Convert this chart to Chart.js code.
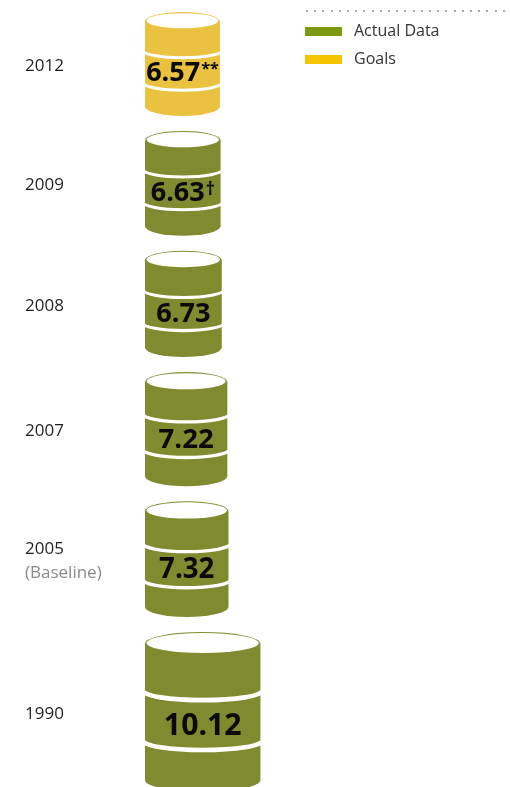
<!DOCTYPE html>
<html>
<head>
<meta charset="utf-8">
<script src="https://cdn.jsdelivr.net/npm/chart.js@4.4.1/dist/chart.umd.min.js"></script>
<style>
  html, body { margin: 0; padding: 0; background: #fff; }
  #wrap { width: 510px; height: 787px; position: relative; }
</style>
</head>
<body>
<div id="wrap"><canvas id="barrelChart"></canvas></div>
<script>
// data
const years = ['2012', '2009', '2008', '2007', '2005', '1990'];
const yearNotes = ['', '', '', '', '(Baseline)', ''];
const values = [6.57, 6.63, 6.73, 7.22, 7.32, 10.12];
const valueMarks = ['**', '†', '', '', '', ''];
const isGoal = [true, false, false, false, false, false];
const legendLabels = ['Actual Data', 'Goals'];

// barrel colours
const GREEN = '#808b2f';
const YELLOW = '#ebc23f';
const LEGEND_GREEN = '#7d9912';
const LEGEND_YELLOW = '#f5c400';

// barrels are stacked top-down, each as tall as its value (in y units)
const TOP_PAD = 1.06, GAP = 1.32, HK = 1.392;
const heights = values.map(v => v * HK);
const centers = [];
let acc = TOP_PAD;
heights.forEach(h => { centers.push(acc + h / 2); acc += h + GAP; });

const pts = idxs => idxs.map(i => ({ x: values[i], y: centers[i], idx: i }));
const goalIdx = values.map((_, i) => i).filter(i => isGoal[i]);
const actualIdx = values.map((_, i) => i).filter(i => !isGoal[i]);

function drawBarrel(ctx, x0, x1, yt, yb, color) {
  const w = x1 - x0, cx = (x0 + x1) / 2, rx = w / 2;
  const ry = 5 + w * 0.06;
  const h = yb - yt;
  ctx.save();
  ctx.fillStyle = color;
  ctx.beginPath();
  ctx.moveTo(x0, yt + ry);
  ctx.lineTo(x0, yb - ry);
  ctx.ellipse(cx, yb - ry, rx, ry, 0, Math.PI, 0, true);
  ctx.lineTo(x1, yt + ry);
  ctx.ellipse(cx, yt + ry, rx, ry, 0, 0, Math.PI, true);
  ctx.closePath();
  ctx.fill();
  // open top
  ctx.fillStyle = '#fff';
  ctx.beginPath();
  ctx.ellipse(cx, yt + ry - 0.8, rx - 1.6, ry - 1.9, 0, 0, Math.PI * 2);
  ctx.fill();
  // hoops
  ctx.strokeStyle = '#fff';
  ctx.lineWidth = Math.max(2.8, w * 0.04);
  [0.367, 0.679].forEach(f => {
    ctx.beginPath();
    ctx.ellipse(cx, yt + h * f, rx + 2, ry * 0.8, 0, Math.PI, 0, true);
    ctx.stroke();
  });
  ctx.restore();
}

const barrelPlugin = {
  id: 'barrels',
  afterDatasetsDraw(chart) {
    const ctx = chart.ctx;
    const ys = chart.scales.y;
    chart.data.datasets.forEach((ds, di) => {
      const meta = chart.getDatasetMeta(di);
      meta.data.forEach((el, j) => {
        const raw = ds.data[j];
        const i = raw.idx;
        const yt = ys.getPixelForValue(raw.y - heights[i] / 2);
        const yb = ys.getPixelForValue(raw.y + heights[i] / 2);
        const x0 = el.base, x1 = el.x;
        drawBarrel(ctx, x0, x1, yt, yb, ds.barrelColor);
        // value label
        const w = x1 - x0;
        const F = 21 + 0.08 * w;
        const ty = yt + (yb - yt) * 0.575;
        const base = ty + 0.357 * F;
        ctx.save();
        ctx.fillStyle = '#0a0a0a';
        ctx.textBaseline = 'alphabetic';
        ctx.textAlign = 'left';
        ctx.font = `700 ${F}px "Open Sans"`;
        const txt = values[i].toFixed(2);
        const tw = ctx.measureText(txt).width;
        const mark = valueMarks[i];
        let mf = 0, mw = 0;
        if (mark) {
          mf = mark === '†' ? F * 0.66 : F * 0.6;
          ctx.font = `700 ${mf}px "Open Sans"`;
          mw = ctx.measureText(mark).width + 1;
        }
        const sx = (x0 + x1) / 2 - (tw + mw) / 2;
        ctx.font = `700 ${F}px "Open Sans"`;
        ctx.fillText(txt, sx, base);
        if (mark) {
          ctx.font = `700 ${mf}px "Open Sans"`;
          const mb = mark === '†' ? base - 0.22 * F : base - 0.714 * F + 0.75 * mf;
          ctx.fillText(mark, sx + tw + 1, mb);
        }
        ctx.restore();
      });
    });

    // year labels
    ctx.save();
    ctx.textAlign = 'left';
    ctx.textBaseline = 'middle';
    years.forEach((yr, i) => {
      const cy = ys.getPixelForValue(centers[i]);
      ctx.font = '17px "Open Sans"';
      if (yearNotes[i]) {
        ctx.fillStyle = '#231f20';
        ctx.fillText(yr, 25, cy - 10);
        ctx.fillStyle = '#8a8a8a';
        ctx.fillText(yearNotes[i], 25, cy + 14);
      } else {
        ctx.fillStyle = '#231f20';
        ctx.fillText(yr, 25, cy + 2);
      }
    });
    ctx.restore();

    // legend
    ctx.save();
    ctx.fillStyle = '#a8a8a8';
    for (let x = 306; x <= 504; x += 8.2) ctx.fillRect(Math.round(x), 10, 2, 2);
    const swatches = [LEGEND_GREEN, LEGEND_YELLOW];
    legendLabels.forEach((lbl, k) => {
      const y = 27 + k * 28;
      ctx.fillStyle = swatches[k];
      ctx.fillRect(305, y, 37, 9);
      ctx.fillStyle = '#333';
      ctx.font = '16px "Open Sans"';
      ctx.textBaseline = 'middle';
      ctx.fillText(lbl, 354, y + 4);
    });
    ctx.restore();
  }
};

new Chart(document.getElementById('barrelChart').getContext('2d'), {
  type: 'bar',
  data: {
    datasets: [
      { label: legendLabels[0], data: pts(actualIdx), backgroundColor: 'rgba(0,0,0,0)', barrelColor: GREEN, barThickness: 10 },
      { label: legendLabels[1], data: pts(goalIdx), backgroundColor: 'rgba(0,0,0,0)', barrelColor: YELLOW, barThickness: 10 }
    ]
  },
  options: {
    indexAxis: 'y',
    responsive: true,
    maintainAspectRatio: false,
    animation: false,
    layout: { padding: { left: 145, right: 0, top: 0, bottom: 0 } },
    plugins: { legend: { display: false }, tooltip: { enabled: false } },
    scales: {
      x: { type: 'linear', min: 0, max: 32, display: false, offset: false },
      y: { type: 'linear', min: 0, max: 69.3, reverse: true, display: false, offset: false }
    }
  },
  plugins: [barrelPlugin]
});
</script>
</body>
</html>
